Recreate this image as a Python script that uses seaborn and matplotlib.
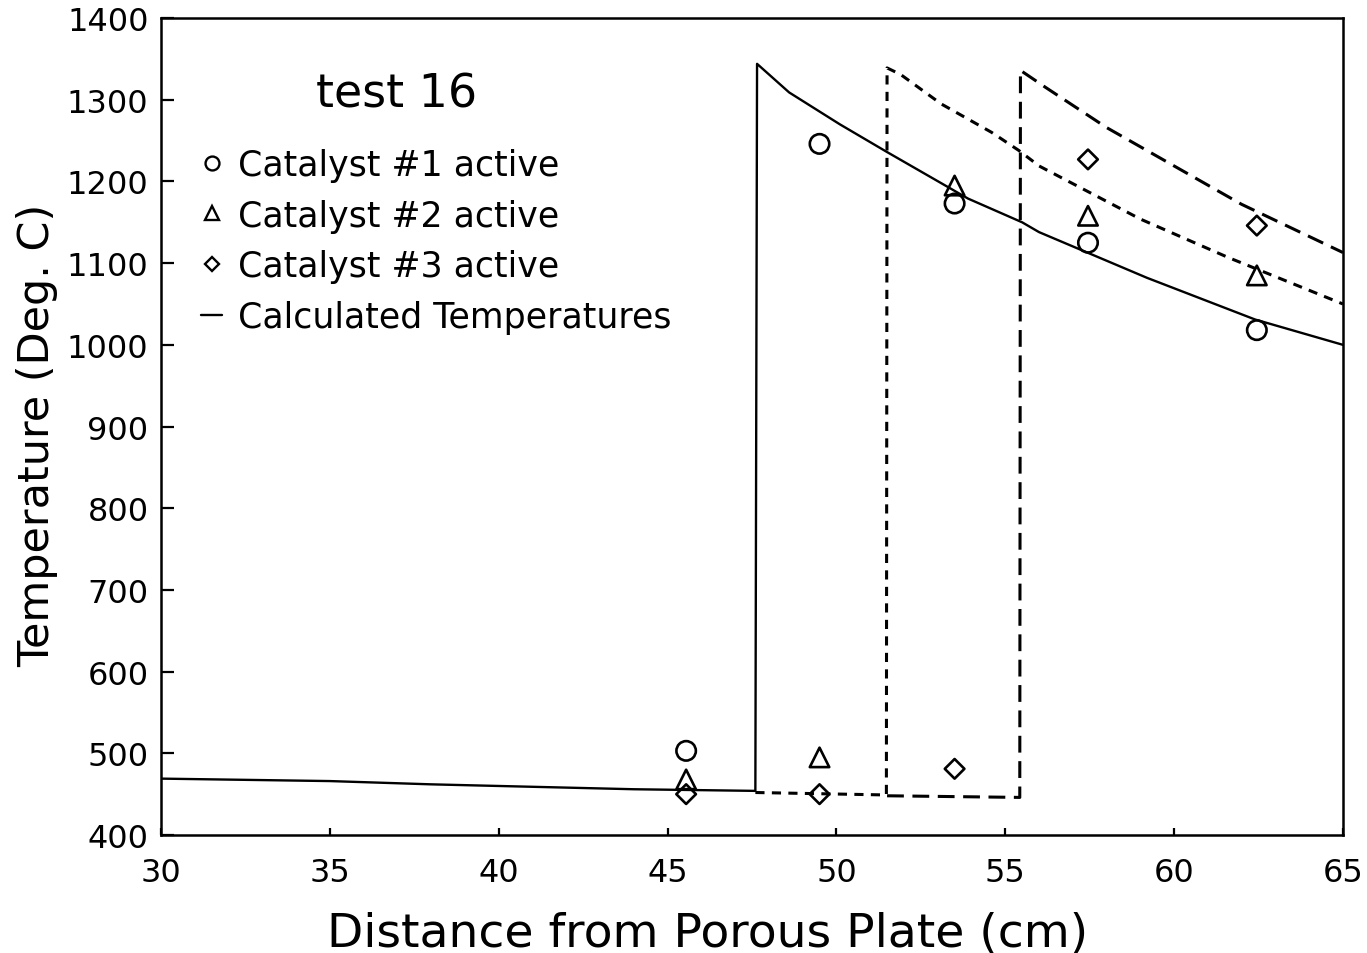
import numpy as np
import pandas as pd
import matplotlib
matplotlib.use('Agg')
import matplotlib.pyplot as plt
from matplotlib.lines import Line2D
import seaborn as sns

#Measured thermocouple positions and temperatures
positions = [45.55, 49.5, 53.5, 57.45, 62.45]
cat1_temps = [503, 1246, 1173, 1125, 1018]
cat2_temps = [468, 495, 1195, 1158, 1085]
cat3_temps = [450, 450, 481, 1227, 1146]

#Calculated temperature profiles
calc1_x = [30, 35, 38, 44, 47.6, 47.65, 48.6, 50.1, 51.5, 53.9, 55.5, 56, 59.2, 62.4, 65]
calc1_y = [469, 466, 462, 456, 454, 1344, 1309, 1270, 1236, 1179, 1150, 1138, 1082, 1031, 1000]
calc2_x = [47.6, 51.48, 51.5, 51.9, 53.1, 54.6, 55.4, 56, 59, 61.6, 65]
calc2_y = [452, 449, 1339, 1331, 1295, 1260, 1238, 1219, 1154, 1107, 1050]
calc3_x = [51.5, 55.43, 55.45, 56.2, 58, 60, 62, 65]
calc3_y = [448, 446, 1336, 1315, 1266, 1219, 1172, 1113]

legend_labels = ['Catalyst #1 active', 'Catalyst #2 active', 'Catalyst #3 active', 'Calculated Temperatures']

sns.set_style('ticks')
plt.rcParams['font.family'] = ['DejaVu Sans']
plt.rcParams.update({'text.color': 'black', 'axes.labelcolor': 'black', 'xtick.color': 'black',
                     'ytick.color': 'black', 'axes.edgecolor': 'black'})

fig = plt.figure(figsize=(13.67, 9.54), dpi=100)
ax = fig.add_axes([0.1178, 0.1237, 0.8646, 0.8563])

#Calculated lines
calc = [(calc1_x, calc1_y, '-'), (calc2_x, calc2_y, (0, (3.0, 2.4))), (calc3_x, calc3_y, (0, (5.5, 2.8)))]
for cx, cy, ls in calc:
    df = pd.DataFrame({'x': cx, 'y': cy})
    sns.lineplot(data=df, x='x', y='y', sort=False, estimator=None, color='black',
                 linewidth=1.7 if ls == '-' else 2.2, linestyle=ls, ax=ax)

#Measured points
meas = [(cat1_temps, 'o', 14), (cat2_temps, '^', 14), (cat3_temps, 'D', 10)]
for temps, mk, ms in meas:
    df = pd.DataFrame({'x': positions, 'y': temps})
    sns.scatterplot(data=df, x='x', y='y', marker=mk, s=ms ** 2, facecolor='none',
                    edgecolor='black', linewidth=1.9, ax=ax, zorder=3)

ax.set_xlim(30, 65)
ax.set_ylim(400, 1400)
ax.set_xticks(np.arange(30, 66, 5))
ax.set_yticks(np.arange(400, 1401, 100))
ax.tick_params(axis='both', direction='in', labelsize=23, width=1.6)
ax.tick_params(axis='y', length=9, pad=9)
ax.tick_params(axis='x', length=5, pad=16)
for sp in ax.spines.values():
    sp.set_linewidth(1.8)
    sp.set_visible(True)

ax.set_xlabel('Distance from Porous Plate (cm)', fontsize=34)
ax.set_ylabel('Temperature (Deg. C)', fontsize=31)
ax.xaxis.set_label_coords(0.462, -0.092)
ax.yaxis.set_label_coords(-0.087, 0.49)

ax.text(0.199, 0.907, 'test 16', transform=ax.transAxes, fontsize=33, ha='center', va='center')

#Legend
handles = [Line2D([], [], marker='o', ls='none', color='black', mfc='none', ms=10, mew=1.7),
           Line2D([], [], marker='^', ls='none', color='black', mfc='none', ms=10, mew=1.7),
           Line2D([], [], marker='D', ls='none', color='black', mfc='none', ms=7.5, mew=1.7),
           Line2D([], [], ls='-', color='black', lw=1.7)]
ax.legend(handles, legend_labels, loc='upper left', bbox_to_anchor=(0.034, 0.841), frameon=False,
          fontsize=25, handlelength=0.6, handletextpad=0.45, labelspacing=0.48, borderpad=0,
          borderaxespad=0)

plt.savefig('out.png', dpi=100)
